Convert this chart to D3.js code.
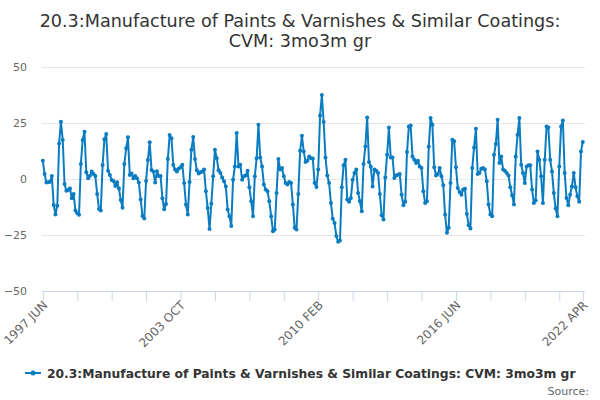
<!DOCTYPE html>
<html>
<head>
<meta charset="utf-8">
<script src="https://cdn.jsdelivr.net/npm/d3@7"></script>
<style>
  body { margin: 0; background: #fff; }
  text { font-family: "DejaVu Sans", sans-serif; }
</style>
</head>
<body>
<div id="chart"></div>
<script>
// series: 3 month on 3 month growth, monthly from 1997 JUN to 2022 APR
var values = [
  8.2, 2.2, -1.6, -1.5, -1.2, 1.3, -11.6, -15.8, -11.9, 15.9,
  25.6, 17.4, -2.2, -5.2, -4.9, -4.2, -8.6, -6.7, -14.1, -15.3,
  -16, 6.7, 17.4, 21.1, 3, 0.3, 1.5, 3.3, 2.2, 1.3,
  -6.7, -13.4, -14.1, 6.3, 17.7, 20.1, 3.7, 1.8, -0.4, -0.9,
  -3.1, -1.5, -4.2, -9.4, -12.8, 6.7, 13.7, 18.6, 1.8, 2.5,
  0.3, 1.3, 0.3, -1.6, -9.1, -16.5, -17.6, -0.9, 8.5, 16.4,
  4, 3.3, -1.6, 3.5, 1.3, 1.3, -8.6, -13.5, -11.2, 8.9,
  19.6, 18.2, 6.3, 4.2, 3.4, 4.6, 5.2, 6.4, -1.8, -11.4,
  -15.9, -1.3, 13.1, 18.7, 8.9, 3.9, 2.4, 3, 3.4, 4.2,
  -5.5, -12.9, -22.3, -11.1, 1.2, 13.1, 9.3, 3.9, 2.7, 0.7,
  -1, -3.3, -13.6, -16.6, -21, -0.3, 5.6, 20.5, 5.6, 6.4,
  -0.3, 1.2, 1.6, 3.7, -3.7, -9.9, -16.6, 1.2, 9.3, 24.2,
  9.6, 5.6, -2.5, -4.7, -5.5, -9.9, -16.6, -23.3, -22.6, -6.2,
  8.9, 4.2, 4.9, 1.2, -1.8, -2.5, -1.3, -1.8, -11.4, -21.8,
  -22.6, -6.7, 12.6, 19.3, 12.3, 7.6, 8.2, 10.1, 9.3, 9.1,
  -1.8, -3.6, 4.2, 28.3, 37.5, 25.4, 9.6, 1.6, -1.8, -10.7,
  -17.8, -19.6, -25.5, -28, -27.4, -3.7, 6.1, 8.6, -9.2, -10.2,
  -8.5, -0.3, 2.7, 4.2, -6.2, -9.9, -14.4, 6.7, 14.5, 27.4,
  7.6, 5.5, -3.3, 4.2, 3.7, 2.7, -6.7, -16.2, -18.1, 0.7,
  10.8, 23, 9.6, 9.6, 0.4, 1.6, 1.9, 2.2, -7, -11.7,
  -10.2, 12.1, 23.4, 23.9, 10.1, 8.6, 7.1, 8.2, 5.6, 4.9,
  -5.5, -10.7, -9.9, 14.5, 27.2, 24.2, 5.2, 1.6, 2.2, 4.9,
  1.2, -2.8, -15.9, -24, -21.8, -1.8, 17.5, 16.8, 5.2, -4,
  -5.8, -7, -4.7, -4.3, -15.6, -20.6, -22.1, 4.9, 14.1, 22.4,
  2.2, 2.7, 4.6, 4.9, 4.2, -1, -11.4, -15.9, -16.6, 10.8,
  15.6, 26.4, 7.1, 10.1, 4.2, 3.7, 2.7, 1.6, -3.7, -7.3,
  -11.4, 10.1, 19.7, 27.2, 6.4, 2.7, -1.8, 5.6, 6.1, 6.1,
  -4.7, -10.7, -9.6, 12.3, 8.6, 1.2, -10.7, 8.6, 23.4, 23,
  8.6, 3.4, -6.2, -13.2, -16.6, 5.6, 23.4, 26.1, 2.7, -8.5,
  -11.7, -7, -3.3, 2.7, -3.7, -7.7, -10.2, 12.3, 16.5
];

var monthNames = ["JAN", "FEB", "MAR", "APR", "MAY", "JUN",
  "JUL", "AUG", "SEP", "OCT", "NOV", "DEC"];
var startYear = 1997, startMonth = 5; // june

// category labels, one per month
var categories = values.map(function(d, i) {
  var m = startMonth + i;
  return (startYear + Math.floor(m / 12)) + " " + monthNames[m % 12];
});

// which categories get a label on the x axis
var tickLabels = ["1997 JUN", "2003 OCT", "2010 FEB", "2016 JUN", "2022 APR"];
var yTicks = [-50, -25, 0, 25, 50];

var title = ["20.3:Manufacture of Paints & Varnishes & Similar Coatings:",
  "CVM: 3mo3m gr"];
var seriesName = "20.3:Manufacture of Paints & Varnishes & Similar Coatings: CVM: 3mo3m gr";

var width = 600, height = 400;
var plotLeft = 42, plotRight = 585, plotTop = 67, plotBottom = 291;
var blue = "#0a7cc1";

var svg = d3.select("#chart")
  .append("svg")
  .attr("width", width)
  .attr("height", height);

// x is a point scale over the months
var x = d3.scalePoint()
  .domain(categories)
  .range([42.8, 582.8]);

var y = d3.scaleLinear()
  .domain([-50, 50])
  .range([plotBottom, plotTop]);

// title
svg.append("text")
  .attr("text-anchor", "middle")
  .style("font-size", "17.6px")
  .style("fill", "#333")
  .selectAll("tspan")
  .data(title)
  .enter()
  .append("tspan")
  .attr("x", width / 2)
  .attr("y", function(d, i) { return 27 + i * 20; })
  .text(function(d) { return d; });

// y axis with grid lines
var yAxis = svg.append("g")
  .attr("transform", "translate(" + plotLeft + ",0)")
  .call(d3.axisLeft(y)
    .tickValues(yTicks)
    .tickSize(-(plotRight - plotLeft))
    .tickPadding(15));
yAxis.select(".domain").remove();
yAxis.selectAll("line").attr("stroke", "#e6e6e6");
yAxis.selectAll("text")
  .style("font-size", "11px")
  .style("fill", "#666")
  .style("font-family", "DejaVu Sans, sans-serif");

// x axis: a tick every 19 months, plus the last one
var tickCats = categories.filter(function(d, i) {
  return i % 19 == 0 || i == categories.length - 1;
});
var xAxis = svg.append("g")
  .attr("transform", "translate(0," + plotBottom + ")")
  .call(d3.axisBottom(x)
    .tickValues(tickCats)
    .tickSize(10)
    .tickSizeOuter(0)
    .tickFormat(function(d) { return tickLabels.indexOf(d) >= 0 ? d : ""; }));
xAxis.select(".domain")
  .attr("stroke", "#ccd6eb")
  .attr("d", "M" + plotLeft + ",0.5H" + plotRight);
xAxis.selectAll("line").attr("stroke", "#ccd6eb");
xAxis.selectAll("text")
  .style("font-size", "12px")
  .style("fill", "#666")
  .style("font-family", "DejaVu Sans, sans-serif")
  .attr("text-anchor", "end")
  .attr("y", 0)
  .attr("dy", "0")
  .attr("transform", "translate(5,15) rotate(-45)");

// the line
var line = d3.line()
  .x(function(d, i) { return x(categories[i]); })
  .y(function(d) { return y(d); });

svg.append("path")
  .datum(values)
  .attr("fill", "none")
  .attr("stroke", blue)
  .attr("stroke-width", 2)
  .attr("stroke-linejoin", "round")
  .attr("d", line);

svg.selectAll(".dot")
  .data(values)
  .enter()
  .append("circle")
  .attr("class", "dot")
  .attr("cx", function(d, i) { return x(categories[i]); })
  .attr("cy", function(d) { return y(d); })
  .attr("r", 2)
  .attr("fill", blue);

// legend
var legend = svg.append("g")
  .attr("transform", "translate(25,373)");
legend.append("line")
  .attr("x1", 0).attr("x2", 16)
  .attr("stroke", blue)
  .attr("stroke-width", 2);
legend.append("circle")
  .attr("cx", 8)
  .attr("r", 2.5)
  .attr("fill", blue);
legend.append("text")
  .attr("x", 22)
  .attr("y", 4.5)
  .style("font-size", "12.3px")
  .style("font-weight", "bold")
  .style("fill", "#333")
  .text(seriesName);

// source
svg.append("text")
  .attr("x", 589)
  .attr("y", 395)
  .attr("text-anchor", "end")
  .style("font-size", "11px")
  .style("fill", "#666")
  .text("Source:");
</script>
</body>
</html>
